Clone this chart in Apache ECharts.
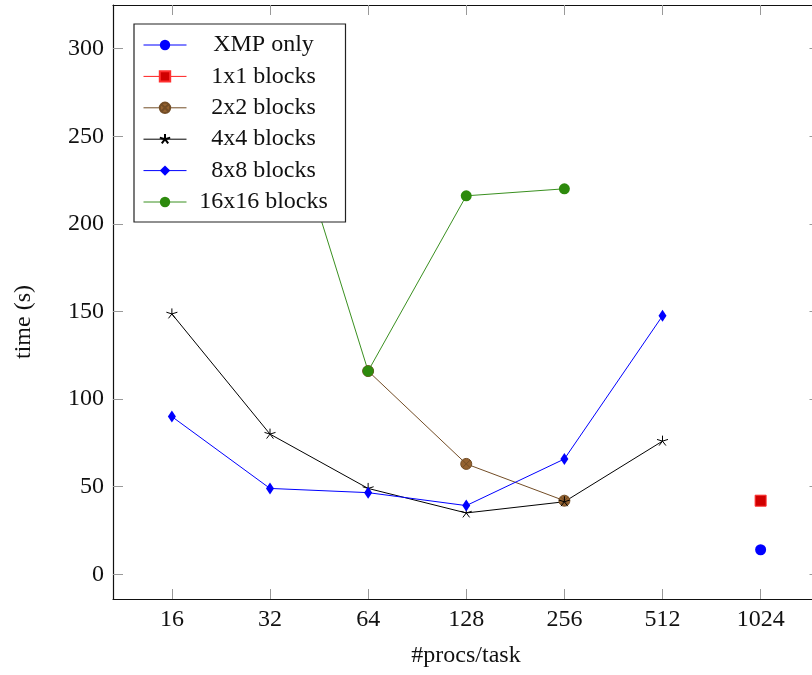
<!DOCTYPE html>
<html>
<head>
<meta charset="utf-8">
<script src="https://cdn.jsdelivr.net/npm/echarts@6/dist/echarts.min.js"></script>
<style>
html,body{margin:0;padding:0;background:#fff;}
#chart{width:812px;height:675px;}
</style>
</head>
<body>
<div id="chart"></div>
<script>
// ---- data ----
const procs = [16, 32, 64, 128, 256, 512, 1024];
const yTicks = [0, 50, 100, 150, 200, 250, 300];
const xmpOnly  = [null, null, null, null, null, null, 14];
const blocks1  = [null, null, null, null, null, null, 42];
const blocks2  = [null, null, 116, 63, 42, null, null];
const blocks4  = [148.6, 80, 49, 35, 41.4, 76, null];
const blocks8  = [90, 49, 46.6, 39.2, 65.8, 147.5, null];
const blocks16 = [null, 296, 116, 216, 220, null, null];
const seriesNames = ['XMP only', '1x1 blocks', '2x2 blocks', '4x4 blocks', '8x8 blocks', '16x16 blocks'];

const FONT = 'Liberation Serif';
const FS = 24;
const toPairs = arr => arr.map((v, i) => v == null ? null : [Math.log2(procs[i]), v]).filter(p => p);
const xTickVals = procs.map(p => Math.log2(p));

const asterisk = 'path://M0,0L0,-1M0,0L0.951,-0.309M0,0L0.588,0.809M0,0L-0.588,0.809M0,0L-0.951,-0.309M0,1L0,1';
const otimes = 'path://M1,0A1,1 0 1,1 -1,0A1,1 0 1,1 1,0ZM-0.707,-0.707L0.707,0.707M-0.707,0.707L0.707,-0.707';

const chart = echarts.init(document.getElementById('chart'), null, {renderer: 'canvas'});

const axisLine = {show: true, onZero: false, lineStyle: {color: '#111', width: 1.2}};
const tickStyle = {color: '#999', width: 1};

const option = {
  backgroundColor: '#fff',
  animation: false,
  grid: {left: 113, top: 5, width: 706.5, height: 594, containLabel: false, outerBoundsMode: 'none'},
  xAxis: [
    {
      type: 'value', min: 3.4, max: 10.6, position: 'bottom',
      axisLine: axisLine, splitLine: {show: false},
      axisTick: {show: true, inside: true, length: 10, customValues: xTickVals, lineStyle: tickStyle},
      axisLabel: {show: true, customValues: xTickVals, margin: 9, color: '#111', fontFamily: FONT, fontSize: FS,
        formatter: v => String(Math.round(Math.pow(2, v)))}
    },
    {
      type: 'value', min: 3.4, max: 10.6, position: 'top',
      axisLine: axisLine, splitLine: {show: false},
      axisTick: {show: true, inside: true, length: 10, customValues: xTickVals, lineStyle: tickStyle},
      axisLabel: {show: false}
    }
  ],
  yAxis: [
    {
      type: 'value', min: -14.1, max: 324.9, position: 'left',
      axisLine: axisLine, splitLine: {show: false},
      axisTick: {show: true, inside: true, length: 10, customValues: yTicks, lineStyle: tickStyle},
      axisLabel: {show: true, customValues: yTicks, margin: 9, color: '#111', fontFamily: FONT, fontSize: FS}
    },
    {
      type: 'value', min: -14.1, max: 324.9, position: 'right',
      axisLine: axisLine, splitLine: {show: false},
      axisTick: {show: true, inside: true, length: 10, customValues: yTicks, lineStyle: tickStyle},
      axisLabel: {show: false}
    }
  ],
  legend: {
    left: 134, top: 24, orient: 'vertical',
    backgroundColor: '#fff', borderColor: '#222', borderWidth: 1.2,
    padding: [9, 10, 8, 9],
    itemWidth: 43, itemHeight: 13, itemGap: 7.4,
    selectedMode: false,
    data: seriesNames,
    lineStyle: {width: 1},
    formatter: name => '{t|' + name + '}',
    textStyle: {
      color: '#111', fontFamily: FONT, fontSize: FS,
      rich: {t: {width: 144, align: 'center', fontFamily: FONT, fontSize: FS, lineHeight: 23, color: '#111'}}
    },
    z: 10
  },
  graphic: [
    {type: 'text', x: 24, y: 322, rotation: Math.PI / 2,
     style: {text: 'time (s)', font: FS + 'px "' + FONT + '"', fill: '#111', align: 'center', verticalAlign: 'middle'}},
    {type: 'text', x: 466, y: 656,
     style: {text: '#procs/task', font: FS + 'px "' + FONT + '"', fill: '#111', align: 'center', verticalAlign: 'middle'}}
  ],
  series: [
    {name: seriesNames[0], type: 'line', data: toPairs(xmpOnly), symbol: 'circle', symbolSize: 11,
     itemStyle: {color: '#0000ff'}, lineStyle: {color: '#0000ff', width: 1}},
    {name: seriesNames[1], type: 'line', data: toPairs(blocks1), symbol: 'rect', symbolSize: 11,
     itemStyle: {color: '#d00000', borderColor: '#ff3030', borderWidth: 1}, lineStyle: {color: '#ff2020', width: 1}},
    {name: seriesNames[2], type: 'line', data: toPairs(blocks2), symbol: otimes, symbolSize: 11,
     itemStyle: {color: '#946230', borderColor: '#734d26', borderWidth: 1}, lineStyle: {color: '#734d26', width: 1}},
    {name: seriesNames[3], type: 'line', data: toPairs(blocks4), symbol: asterisk, symbolSize: 11,
     itemStyle: {color: '#000', borderColor: '#000', borderWidth: 1}, lineStyle: {color: '#000', width: 1}},
    {name: seriesNames[4], type: 'line', data: toPairs(blocks8), symbol: 'diamond', symbolSize: [8, 12],
     itemStyle: {color: '#0000ff'}, lineStyle: {color: '#0000ff', width: 1}},
    {name: seriesNames[5], type: 'line', data: toPairs(blocks16), symbol: 'circle', symbolSize: 11,
     itemStyle: {color: '#2d8a0d'}, lineStyle: {color: '#3a9020', width: 1}}
  ]
};
chart.setOption(option);
</script>
</body>
</html>
